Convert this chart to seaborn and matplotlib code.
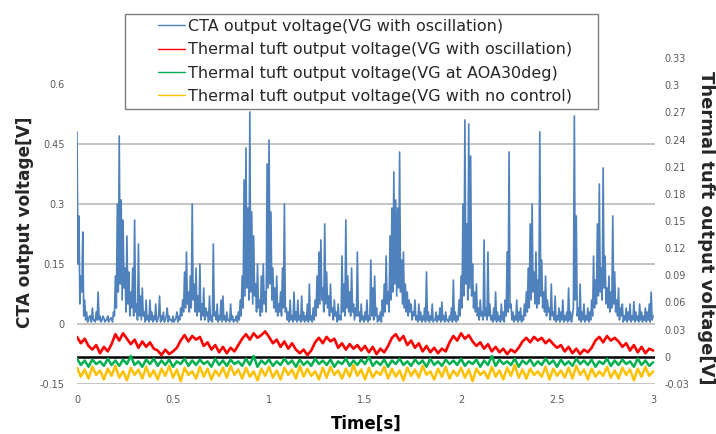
import numpy as np
import pandas as pd
import matplotlib
matplotlib.use("Agg")
import matplotlib.pyplot as plt
from matplotlib.patches import Rectangle
import seaborn as sns

# ---------------- data ----------------
cta_voltage = [
    0.48, 0.15, 0.27, 0.05, 0.12, 0.08, 0.23, 0.02, 0.06, 0.01, 0.03, 0.005, 0.01, 0.02, 0.02, 0.005, 0.04, 0.01, 0.01, 0.005,
    0.03, 0.01, 0.08, 0.01, 0.02, 0.005, 0.01, 0.02, 0.015, 0.005, 0.01, 0.01, 0.02, 0.005, 0.01, 0.015, 0.015, 0.005, 0.03, 0.02,
    0.12, 0.04, 0.30, 0.08, 0.47, 0.10, 0.31, 0.06, 0.26, 0.09, 0.14, 0.03, 0.22, 0.05, 0.13, 0.02, 0.08, 0.04, 0.14, 0.02,
    0.26, 0.03, 0.05, 0.01, 0.20, 0.02, 0.07, 0.01, 0.09, 0.02, 0.03, 0.005, 0.06, 0.01, 0.02, 0.005, 0.06, 0.01, 0.03, 0.005,
    0.02, 0.01, 0.05, 0.005, 0.01, 0.02, 0.07, 0.005, 0.02, 0.01, 0.03, 0.005, 0.01, 0.02, 0.04, 0.005, 0.02, 0.01, 0.01, 0.005,
    0.02, 0.005, 0.01, 0.015, 0.03, 0.005, 0.02, 0.01, 0.04, 0.02, 0.06, 0.03, 0.13, 0.04, 0.18, 0.05, 0.08, 0.03, 0.12, 0.04,
    0.30, 0.06, 0.10, 0.03, 0.14, 0.02, 0.07, 0.03, 0.15, 0.01, 0.05, 0.02, 0.09, 0.01, 0.04, 0.02, 0.03, 0.005, 0.07, 0.01,
    0.02, 0.005, 0.20, 0.02, 0.03, 0.01, 0.05, 0.005, 0.02, 0.01, 0.06, 0.005, 0.07, 0.01, 0.02, 0.005, 0.03, 0.01, 0.01, 0.005,
    0.05, 0.01, 0.02, 0.005, 0.01, 0.01, 0.02, 0.005, 0.03, 0.01, 0.06, 0.02, 0.12, 0.04, 0.36, 0.07, 0.44, 0.09, 0.29, 0.06,
    0.53, 0.08, 0.28, 0.05, 0.22, 0.07, 0.10, 0.03, 0.15, 0.04, 0.06, 0.02, 0.12, 0.03, 0.15, 0.05, 0.08, 0.03, 0.40, 0.09,
    0.46, 0.10, 0.28, 0.06, 0.14, 0.04, 0.09, 0.03, 0.12, 0.02, 0.05, 0.03, 0.08, 0.02, 0.14, 0.04, 0.30, 0.03, 0.04, 0.01,
    0.03, 0.005, 0.06, 0.01, 0.02, 0.005, 0.08, 0.01, 0.03, 0.005, 0.06, 0.01, 0.02, 0.005, 0.07, 0.01, 0.03, 0.005, 0.02, 0.01,
    0.05, 0.005, 0.10, 0.01, 0.02, 0.005, 0.04, 0.01, 0.06, 0.02, 0.12, 0.04, 0.18, 0.05, 0.21, 0.06, 0.09, 0.03, 0.25, 0.05,
    0.13, 0.04, 0.07, 0.02, 0.10, 0.03, 0.04, 0.01, 0.06, 0.02, 0.03, 0.005, 0.05, 0.01, 0.02, 0.01, 0.17, 0.03, 0.10, 0.02,
    0.26, 0.04, 0.12, 0.03, 0.08, 0.02, 0.14, 0.03, 0.05, 0.01, 0.04, 0.02, 0.18, 0.02, 0.03, 0.005, 0.05, 0.01, 0.02, 0.005,
    0.03, 0.01, 0.06, 0.005, 0.02, 0.01, 0.16, 0.02, 0.09, 0.01, 0.12, 0.02, 0.04, 0.005, 0.02, 0.01, 0.03, 0.005, 0.06, 0.02,
    0.10, 0.03, 0.17, 0.05, 0.08, 0.03, 0.22, 0.06, 0.29, 0.08, 0.38, 0.10, 0.31, 0.07, 0.29, 0.09, 0.43, 0.08, 0.16, 0.05,
    0.18, 0.04, 0.10, 0.03, 0.08, 0.02, 0.06, 0.03, 0.05, 0.01, 0.03, 0.02, 0.06, 0.01, 0.02, 0.005, 0.05, 0.01, 0.03, 0.005,
    0.02, 0.01, 0.04, 0.005, 0.13, 0.01, 0.03, 0.005, 0.02, 0.01, 0.05, 0.005, 0.01, 0.01, 0.03, 0.005, 0.02, 0.01, 0.04, 0.005,
    0.055, 0.01, 0.02, 0.005, 0.03, 0.01, 0.01, 0.005, 0.02, 0.01, 0.04, 0.005, 0.11, 0.01, 0.03, 0.005, 0.02, 0.01, 0.06, 0.02,
    0.12, 0.04, 0.30, 0.07, 0.51, 0.10, 0.25, 0.06, 0.50, 0.09, 0.42, 0.07, 0.15, 0.04, 0.08, 0.03, 0.10, 0.02, 0.04, 0.01,
    0.06, 0.02, 0.03, 0.01, 0.21, 0.02, 0.04, 0.01, 0.18, 0.02, 0.05, 0.01, 0.02, 0.005, 0.04, 0.01, 0.08, 0.005, 0.03, 0.01,
    0.02, 0.005, 0.05, 0.01, 0.03, 0.005, 0.06, 0.02, 0.18, 0.03, 0.43, 0.04, 0.05, 0.01, 0.03, 0.005, 0.02, 0.01, 0.06, 0.005,
    0.03, 0.01, 0.04, 0.005, 0.02, 0.01, 0.05, 0.02, 0.08, 0.03, 0.14, 0.04, 0.25, 0.06, 0.30, 0.08, 0.13, 0.05, 0.18, 0.04,
    0.11, 0.05, 0.48, 0.07, 0.16, 0.04, 0.08, 0.03, 0.12, 0.02, 0.06, 0.03, 0.04, 0.01, 0.10, 0.02, 0.03, 0.01, 0.07, 0.005,
    0.02, 0.01, 0.04, 0.005, 0.03, 0.01, 0.06, 0.005, 0.02, 0.01, 0.03, 0.005, 0.09, 0.01, 0.03, 0.005, 0.02, 0.04, 0.52, 0.06,
    0.27, 0.02, 0.04, 0.01, 0.10, 0.005, 0.03, 0.01, 0.05, 0.005, 0.02, 0.01, 0.04, 0.005, 0.03, 0.01, 0.06, 0.02, 0.17, 0.04,
    0.11, 0.05, 0.25, 0.07, 0.35, 0.08, 0.14, 0.06, 0.39, 0.09, 0.17, 0.05, 0.09, 0.04, 0.12, 0.03, 0.08, 0.04, 0.27, 0.05,
    0.13, 0.03, 0.06, 0.02, 0.09, 0.01, 0.04, 0.02, 0.05, 0.005, 0.02, 0.01, 0.04, 0.005, 0.03, 0.01, 0.05, 0.005, 0.02, 0.01,
    0.056, 0.005, 0.03, 0.01, 0.02, 0.005, 0.05, 0.01, 0.03, 0.005, 0.02, 0.01, 0.04, 0.005, 0.03, 0.01, 0.05, 0.005, 0.08, 0.01,
    0.02,
]

tuft_oscillation = [
    0.022, 0.015, 0.020,
    0.012, 0.008, 0.013, 0.004, 0.011, 0.006, 0.014,
    0.025, 0.018, 0.026, 0.020,
    0.014, 0.019, 0.010, 0.017, 0.011, 0.016, 0.009,
    0.007, 0.002, 0.008, 0.003, 0.006, 0.010,
    0.018, 0.024, 0.017, 0.023, 0.019, 0.022,
    0.012, 0.016, 0.008, 0.013, 0.005, 0.011, 0.004, 0.010, 0.006, 0.013,
    0.020, 0.025, 0.019, 0.026, 0.021, 0.024, 0.028, 0.022,
    0.015, 0.019, 0.011, 0.017, 0.009, 0.015, 0.008,
    0.004, 0.008, 0.002, 0.007,
    0.016, 0.021, 0.015, 0.022, 0.017, 0.020,
    0.010, 0.015, 0.008, 0.014, 0.009, 0.013, 0.007, 0.012,
    0.005, 0.011, 0.003, 0.009, 0.005, 0.012,
    0.021, 0.025, 0.018, 0.023,
    0.013, 0.018, 0.010, 0.015, 0.006, 0.012, 0.005, 0.010, 0.004, 0.009, 0.006,
    0.016, 0.023, 0.018, 0.026, 0.020, 0.024, 0.017,
    0.012, 0.016, 0.009, 0.014, 0.006, 0.011, 0.005, 0.009, 0.003, 0.008, 0.005, 0.010,
    0.017, 0.021, 0.016, 0.022, 0.018, 0.021, 0.015, 0.019, 0.014,
    0.010, 0.013, 0.006, 0.011, 0.004, 0.009, 0.003, 0.008, 0.005, 0.010,
    0.018, 0.022, 0.016, 0.023, 0.018, 0.021, 0.017,
    0.011, 0.015, 0.007, 0.013, 0.005, 0.011, 0.004, 0.009, 0.007,
]

tuft_aoa30 = [
    -0.002, -0.009, -0.004, -0.011, -0.003, -0.008, -0.005, -0.010, -0.002, -0.009,
    -0.004, -0.010, -0.003, -0.008, 0.001, -0.009, -0.005, -0.011, -0.003, -0.008,
    -0.002, -0.010, -0.004, -0.009, -0.003, -0.011, -0.005, -0.008, -0.002, -0.010,
    -0.004, -0.009, -0.003, -0.008, -0.005, -0.011, -0.002, -0.009, -0.004, -0.010,
    -0.003, -0.008, -0.005, -0.010, -0.002, -0.009, 0.001, -0.011, -0.004, -0.008,
    -0.003, -0.010, -0.005, -0.009, -0.002, -0.008, -0.004, -0.011, -0.003, -0.009,
    -0.005, -0.010, -0.002, -0.008, -0.004, -0.009, -0.003, -0.011, -0.005, -0.008,
    -0.002, -0.010, -0.004, -0.009, -0.003, -0.008, 0.000, -0.010, -0.005, -0.009,
    -0.003, -0.011, -0.004, -0.008, -0.002, -0.009, -0.005, -0.010, -0.003, -0.008,
    -0.004, -0.011, -0.002, -0.009, -0.005, -0.010, -0.003, -0.008, -0.004, -0.009,
    -0.002, -0.010, -0.005, -0.008, -0.003, -0.011, -0.004, -0.009, 0.001, -0.010,
    -0.003, -0.008, -0.005, -0.009, -0.002, -0.011, -0.004, -0.008, -0.003, -0.010,
    -0.005, -0.009, -0.002, -0.008, -0.004, -0.011, -0.003, -0.009, -0.005, -0.010,
    -0.002, -0.008, -0.004, -0.009, -0.003, -0.011, -0.005, -0.008, -0.002, -0.010,
    -0.004, -0.009, -0.003, -0.008, -0.005, -0.011, -0.002, -0.009, -0.004, -0.010,
    -0.006,
]

tuft_no_control = [
    -0.012, -0.022, -0.014, -0.024, -0.011, -0.020, -0.015, -0.025, -0.013, -0.021,
    -0.010, -0.023, -0.016, -0.026, -0.012, -0.020, -0.014, -0.024, -0.011, -0.022,
    -0.015, -0.025, -0.013, -0.021, -0.010, -0.023, -0.014, -0.027, -0.012, -0.020,
    -0.016, -0.024, -0.011, -0.022, -0.013, -0.025, -0.015, -0.021, -0.012, -0.023,
    -0.010, -0.020, -0.014, -0.024, -0.012, -0.022, -0.016, -0.026, -0.013, -0.021,
    -0.011, -0.023, -0.015, -0.025, -0.012, -0.020, -0.014, -0.024, -0.010, -0.022,
    -0.013, -0.021, -0.016, -0.025, -0.012, -0.023, -0.011, -0.020, -0.015, -0.024,
    -0.013, -0.022, -0.009, -0.021, -0.014, -0.025, -0.012, -0.023, -0.016, -0.020,
    -0.011, -0.024, -0.013, -0.022, -0.015, -0.026, -0.012, -0.021, -0.014, -0.023,
    -0.010, -0.020, -0.016, -0.025, -0.013, -0.022, -0.011, -0.024, -0.015, -0.021,
    -0.012, -0.023, -0.014, -0.027, -0.013, -0.020, -0.016, -0.024, -0.011, -0.022,
    -0.015, -0.025, -0.012, -0.021, -0.009, -0.023, -0.014, -0.024, -0.013, -0.020,
    -0.016, -0.022, -0.011, -0.025, -0.013, -0.021, -0.015, -0.023, -0.012, -0.024,
    -0.010, -0.020, -0.014, -0.025, -0.013, -0.022, -0.016, -0.021, -0.011, -0.023,
    -0.015, -0.024, -0.012, -0.020, -0.014, -0.026, -0.013, -0.022, -0.011, -0.021,
    -0.016,
]

legend_labels = [
    "CTA output voltage(VG with oscillation)",
    "Thermal tuft output voltage(VG with oscillation)",
    "Thermal tuft output voltage(VG at AOA30deg)",
    "Thermal tuft output voltage(VG with no control)",
]
x_ticks = [0, 0.5, 1, 1.5, 2, 2.5, 3]
x_tick_labels = ["0", "0.5", "1", "1.5", "2", "2.5", "3"]
left_ticks = [-0.15, 0, 0.15, 0.3, 0.45, 0.6]
left_tick_labels = ["-0.15", "0", "0.15", "0.3", "0.45", "0.6"]
right_ticks = [-0.03, 0, 0.03, 0.06, 0.09, 0.12, 0.15, 0.18, 0.21, 0.24, 0.27, 0.3, 0.33]
right_tick_labels = ["-0.03", "0", "0.03", "0.06", "0.09", "0.12", "0.15",
                     "0.18", "0.21", "0.24", "0.27", "0.3", "0.33"]

# ---------------- style ----------------
sns.set_theme(style="white")
plt.rcParams["font.family"] = ["DejaVu Sans"]

BLUE = "#4F81BD"
RED = "#FF0000"
GREEN = "#00B050"
ORANGE = "#FFC000"
GRID = "#BFBFBF"
TICK = "#595959"

W, H = 716, 434
fig = plt.figure(figsize=(W / 100, H / 100), dpi=100)
ax = fig.add_axes([77 / W, 50 / H, 578 / W, 326 / H])
ax2 = ax.twinx()

def frame(values):
    return pd.DataFrame({"t": np.linspace(0, 3, len(values)), "v": values})

for y in [0.45, 0.3, 0.15, 0, -0.15]:
    ax.axhline(y, color=GRID, lw=1.3, zorder=0)

sns.lineplot(data=frame(cta_voltage), x="t", y="v", ax=ax, color=BLUE,
             lw=1.2, estimator=None, label=legend_labels[0], legend=False)

ax2.axhline(0, color="black", lw=1.8, zorder=1)
sns.lineplot(data=frame(tuft_oscillation), x="t", y="v", ax=ax2, color=RED,
             lw=1.9, estimator=None, label=legend_labels[1], legend=False)
sns.lineplot(data=frame(tuft_aoa30), x="t", y="v", ax=ax2, color=GREEN,
             lw=1.8, estimator=None, label=legend_labels[2], legend=False)
sns.lineplot(data=frame(tuft_no_control), x="t", y="v", ax=ax2, color=ORANGE,
             lw=1.8, estimator=None, label=legend_labels[3], legend=False)

ax.set_xlim(0, 3.01)
ax.set_ylim(-0.15, 0.665)
ax2.set_ylim(-0.03, 0.33)

ax.set_xticks(x_ticks)
ax.set_xticklabels(x_tick_labels)
ax.set_yticks(left_ticks)
ax.set_yticklabels(left_tick_labels)
ax2.set_yticks(right_ticks)
ax2.set_yticklabels(right_tick_labels)

for a in (ax, ax2):
    for s in a.spines.values():
        s.set_visible(False)
    a.grid(False)
ax.tick_params(axis="x", length=0, pad=8, labelsize=7, labelcolor=TICK)
ax.tick_params(axis="y", length=0, pad=9, labelsize=7, labelcolor=TICK)
ax2.tick_params(axis="y", length=0, pad=7, labelsize=7, labelcolor=TICK)

ax.set_xlabel("Time[s]", fontsize=12, fontweight="bold", color="black", labelpad=7)
ax.set_ylabel("")
ax2.set_ylabel("")
fig.text(25 / W, 1 - 222 / H, "CTA output voltage[V]", rotation=90,
         ha="center", va="center", fontsize=12.2, fontweight="bold")
fig.text(706 / W, 1 - 228 / H, "Thermal tuft output voltage[V]", rotation=-90,
         ha="center", va="center", fontsize=13, fontweight="bold")

# legend
handles = [h for h in ax.get_lines() if h.get_label() in legend_labels] + \
          [h for h in ax2.get_lines() if h.get_label() in legend_labels]
leg = fig.legend(handles=handles, labels=legend_labels, loc="upper left",
                 bbox_to_anchor=(158 / W, 1 - 19 / H), frameon=False,
                 fontsize=11.5, borderpad=0, borderaxespad=0, handlelength=1.7,
                 handletextpad=0.15, labelspacing=0.52)
for txt in leg.get_texts():
    txt.set_color("#262626")
for ln in leg.get_lines():
    ln.set_linewidth(1.0)
fig.patches.append(Rectangle((125 / W, 1 - 109 / H), 473 / W, 95 / H,
                             transform=fig.transFigure, fill=False,
                             edgecolor="#7F7F7F", lw=1.0))

fig.savefig("out.png", dpi=100)
